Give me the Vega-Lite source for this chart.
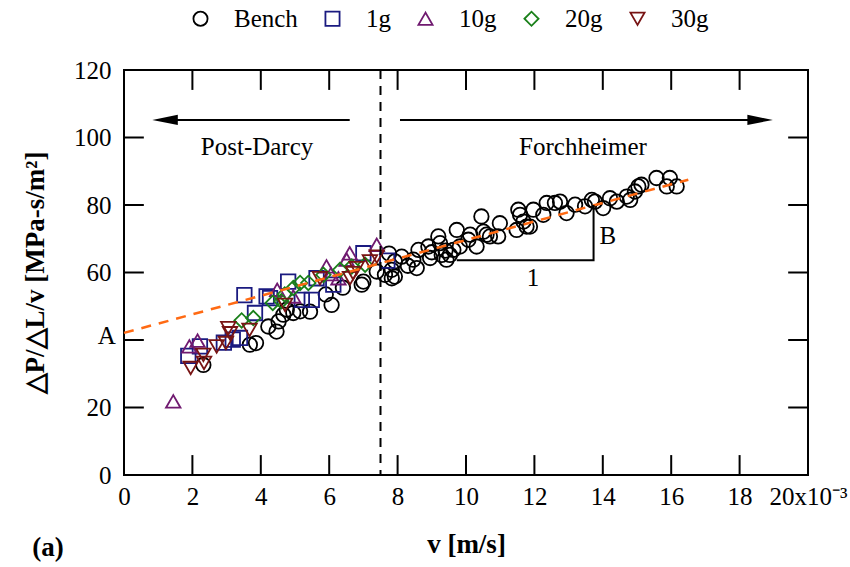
{
 "$schema": "https://vega.github.io/schema/vega-lite/v6.json",
 "width": 684, "height": 405,
 "autosize": {"type": "none"},
 "padding": {"left": 124, "top": 70, "right": 42, "bottom": 92},
 "background": "white",
 "config": {
  "view": {"stroke": "black", "strokeWidth": 2},
  "font": "'Liberation Serif', 'Times New Roman', Times, serif",
  "axis": {"domain": false, "grid": false, "ticks": false, "tickSize": 0,
   "labelFont": "'Liberation Serif', 'Times New Roman', Times, serif", "labelFontSize": 25, "labelColor": "black",
   "titleFont": "'Liberation Serif', 'Times New Roman', Times, serif", "titleFontSize": 27, "titleFontWeight": "bold", "titleColor": "black"},
  "legend": {"orient": "none", "direction": "horizontal", "legendX": 64, "legendY": -64, "padding": 0,
   "labelFont": "'Liberation Serif', 'Times New Roman', Times, serif", "labelFontSize": 25, "labelColor": "black", "labelOffset": 21,
   "columnPadding": 22, "symbolSize": 200, "symbolStrokeWidth": 1.8, "symbolFillColor": "transparent", "symbolOpacity": 1}
 },
 "datasets": {
  "pts": [
   {"series":"Bench","v":0.00232,"y":32.6},{"series":"Bench","v":0.00368,"y":38.6},{"series":"Bench","v":0.00386,"y":39.1},
   {"series":"Bench","v":0.00422,"y":44.0},{"series":"Bench","v":0.00446,"y":42.5},{"series":"Bench","v":0.00452,"y":45.5},
   {"series":"Bench","v":0.00466,"y":47.5},{"series":"Bench","v":0.00476,"y":49.0},{"series":"Bench","v":0.00495,"y":48.0},
   {"series":"Bench","v":0.00515,"y":48.5},{"series":"Bench","v":0.00544,"y":48.4},{"series":"Bench","v":0.0059,"y":53.5},
   {"series":"Bench","v":0.00607,"y":50.4},{"series":"Bench","v":0.0064,"y":55.5},{"series":"Bench","v":0.00695,"y":56.4},
   {"series":"Bench","v":0.0070,"y":57.3},{"series":"Bench","v":0.00739,"y":60.3},{"series":"Bench","v":0.00763,"y":59.3},
   {"series":"Bench","v":0.00783,"y":58.3},{"series":"Bench","v":0.00792,"y":58.8},{"series":"Bench","v":0.00775,"y":65.6},
   {"series":"Bench","v":0.00783,"y":60.8},{"series":"Bench","v":0.00792,"y":63.3},{"series":"Bench","v":0.00812,"y":64.7},
   {"series":"Bench","v":0.0083,"y":62.0},{"series":"Bench","v":0.00846,"y":63.8},{"series":"Bench","v":0.00856,"y":61.3},
   {"series":"Bench","v":0.00861,"y":66.7},{"series":"Bench","v":0.0089,"y":67.7},{"series":"Bench","v":0.00895,"y":64.3},
   {"series":"Bench","v":0.0090,"y":66.0},{"series":"Bench","v":0.00919,"y":70.7},{"series":"Bench","v":0.00924,"y":68.7},
   {"series":"Bench","v":0.00929,"y":65.2},{"series":"Bench","v":0.0094,"y":66.5},{"series":"Bench","v":0.00943,"y":63.8},
   {"series":"Bench","v":0.00953,"y":65.2},{"series":"Bench","v":0.00963,"y":66.7},{"series":"Bench","v":0.00973,"y":72.6},
   {"series":"Bench","v":0.00982,"y":67.7},{"series":"Bench","v":0.01007,"y":69.7},{"series":"Bench","v":0.01012,"y":71.2},
   {"series":"Bench","v":0.01031,"y":67.7},{"series":"Bench","v":0.01045,"y":76.6},{"series":"Bench","v":0.01051,"y":72.1},
   {"series":"Bench","v":0.0106,"y":71.2},{"series":"Bench","v":0.0107,"y":70.7},{"series":"Bench","v":0.01094,"y":70.7},
   {"series":"Bench","v":0.01099,"y":74.6},{"series":"Bench","v":0.01148,"y":72.6},{"series":"Bench","v":0.01153,"y":78.6},
   {"series":"Bench","v":0.01158,"y":77.1},{"series":"Bench","v":0.01168,"y":75.1},{"series":"Bench","v":0.01177,"y":73.6},
   {"series":"Bench","v":0.01187,"y":73.6},{"series":"Bench","v":0.01197,"y":78.6},{"series":"Bench","v":0.01226,"y":77.1},
   {"series":"Bench","v":0.01236,"y":80.6},{"series":"Bench","v":0.0126,"y":80.6},{"series":"Bench","v":0.01275,"y":81.0},
   {"series":"Bench","v":0.01294,"y":77.6},{"series":"Bench","v":0.01319,"y":80.1},{"series":"Bench","v":0.01348,"y":79.6},
   {"series":"Bench","v":0.01368,"y":81.5},{"series":"Bench","v":0.01377,"y":81.0},{"series":"Bench","v":0.01401,"y":79.1},
   {"series":"Bench","v":0.01421,"y":82.0},{"series":"Bench","v":0.01441,"y":81.0},{"series":"Bench","v":0.0147,"y":82.5},
   {"series":"Bench","v":0.0148,"y":81.5},{"series":"Bench","v":0.01494,"y":84.0},{"series":"Bench","v":0.01504,"y":85.5},
   {"series":"Bench","v":0.01513,"y":86.0},{"series":"Bench","v":0.01557,"y":88.0},{"series":"Bench","v":0.01587,"y":85.5},
   {"series":"Bench","v":0.01596,"y":88.0},{"series":"Bench","v":0.01616,"y":85.5},
   {"series":"1g","v":0.00188,"y":35.3},{"series":"1g","v":0.00222,"y":38.1},{"series":"1g","v":0.00292,"y":39.2},
   {"series":"1g","v":0.00318,"y":40.1},{"series":"1g","v":0.00339,"y":40.6},{"series":"1g","v":0.00352,"y":53.3},
   {"series":"1g","v":0.00383,"y":48.0},{"series":"1g","v":0.00417,"y":52.9},{"series":"1g","v":0.00427,"y":52.4},
   {"series":"1g","v":0.0048,"y":57.3},{"series":"1g","v":0.0052,"y":51.9},{"series":"1g","v":0.00549,"y":51.9},
   {"series":"1g","v":0.00563,"y":58.3},{"series":"1g","v":0.00612,"y":56.4},{"series":"1g","v":0.0070,"y":65.7},
   {"series":"1g","v":0.0077,"y":63.5},
   {"series":"10g","v":0.00144,"y":21.8},{"series":"10g","v":0.00191,"y":38.1},{"series":"10g","v":0.00215,"y":39.8},
   {"series":"10g","v":0.00448,"y":54.9},{"series":"10g","v":0.00495,"y":52.9},{"series":"10g","v":0.00592,"y":61.8},
   {"series":"10g","v":0.00605,"y":59.5},{"series":"10g","v":0.00627,"y":58.3},{"series":"10g","v":0.00651,"y":63.8},
   {"series":"10g","v":0.0066,"y":65.7},{"series":"10g","v":0.00739,"y":68.2},
   {"series":"20g","v":0.00344,"y":45.8},{"series":"20g","v":0.00378,"y":46.5},{"series":"20g","v":0.00435,"y":51.0},
   {"series":"20g","v":0.0046,"y":51.5},{"series":"20g","v":0.0047,"y":53.5},{"series":"20g","v":0.00495,"y":55.4},
   {"series":"20g","v":0.00515,"y":56.9},{"series":"20g","v":0.00539,"y":56.9},{"series":"20g","v":0.00583,"y":59.3},
   {"series":"20g","v":0.00632,"y":60.8},{"series":"20g","v":0.00666,"y":61.8},{"series":"20g","v":0.00705,"y":62.3},
   {"series":"30g","v":0.00195,"y":31.7},{"series":"30g","v":0.00234,"y":33.2},{"series":"30g","v":0.00232,"y":35.6},
   {"series":"30g","v":0.00271,"y":38.1},{"series":"30g","v":0.00298,"y":39.1},{"series":"30g","v":0.0031,"y":42.0},
   {"series":"30g","v":0.00305,"y":43.5},{"series":"30g","v":0.00367,"y":43.0},{"series":"30g","v":0.00471,"y":50.4},
   {"series":"30g","v":0.00573,"y":58.3},{"series":"30g","v":0.00661,"y":58.3},{"series":"30g","v":0.0067,"y":59.8},
   {"series":"30g","v":0.0068,"y":61.3},{"series":"30g","v":0.00719,"y":63.3},{"series":"30g","v":0.00739,"y":64.7}
  ],
  "fit": [{"v": 0.0, "y": 42.1}, {"v": 0.0165, "y": 87.5}],
  "slope": [{"seq": 1, "v": 0.00973, "y": 63.6}, {"seq": 2, "v": 0.01373, "y": 63.6}, {"seq": 3, "v": 0.01373, "y": 80.0}],
  "shafts": [{"v": 0.0012, "v2": 0.0066, "y": 105.2}, {"v": 0.00807, "v2": 0.0186, "y": 105.2}],
  "xticks": [{"v": 0.002}, {"v": 0.004}, {"v": 0.006}, {"v": 0.008}, {"v": 0.01}, {"v": 0.012}, {"v": 0.014}, {"v": 0.016}, {"v": 0.018}],
  "yticks": [{"y": 20}, {"y": 40}, {"y": 60}, {"y": 80}, {"y": 100}],
  "notes": [
   {"v": 0.00389, "y": 97.2, "text": "Post-Darcy"},
   {"v": 0.01342, "y": 97.2, "text": "Forchheimer"},
   {"v": 0.01196, "y": 58.4, "text": "1"},
   {"v": 0.01415, "y": 70.9, "text": "B"},
   {"v": -0.0005, "y": 41.3, "text": "A"}
  ]
 },
 "layer": [
  {
   "data": {"name": "pts"},
   "mark": {"type": "point", "filled": false, "strokeWidth": 1.8, "size": 210, "opacity": 1},
   "encoding": {
    "x": {"field": "v", "type": "quantitative", "scale": {"domain": [0, 0.02], "nice": false},
     "axis": {"orient": "bottom", "values": [0,0.002,0.004,0.006,0.008,0.01,0.012,0.014,0.016,0.018,0.02],
      "labelExpr": "datum.value > 0.0199 ? '20x10⁻³' : format(datum.value*1000, 'd')",
      "labelPadding": 9, "labelFlush": false, "title": "v [m/s]", "titlePadding": 22}},
    "y": {"field": "y", "type": "quantitative", "scale": {"domain": [0, 120], "nice": false},
     "axis": {"orient": "left", "values": [0,20,40,60,80,100,120],
      "labelExpr": "datum.value == 40 ? '' : datum.label", "labelPadding": 13,
      "title": "△P/△L/v [MPa-s/m²]", "titlePadding": 24}},
    "color": {"field": "series", "type": "nominal",
     "scale": {"domain": ["Bench", "1g", "10g", "20g", "30g"], "range": ["#000000", "#1a1a80", "#701a70", "#1a801a", "#781414"]},
     "legend": {"title": null}},
    "shape": {"field": "series", "type": "nominal",
     "scale": {"domain": ["Bench", "1g", "10g", "20g", "30g"], "range": ["circle", "square", "triangle-up", "diamond", "triangle-down"]},
     "legend": {"title": null}}
   }
  },
  {
   "data": {"name": "fit"},
   "mark": {"type": "line", "color": "#ff6a13", "strokeWidth": 2.5, "strokeDash": [10, 8]},
   "encoding": {
    "x": {"field": "v", "type": "quantitative", "scale": {"domain": [0, 0.02], "nice": false}},
    "y": {"field": "y", "type": "quantitative", "scale": {"domain": [0, 120], "nice": false}}
   }
  },
  {
   "data": {"name": "xticks"},
   "mark": {"type": "rule", "color": "black", "strokeWidth": 2},
   "encoding": {
    "x": {"field": "v", "type": "quantitative", "scale": {"domain": [0, 0.02], "nice": false}},
    "y": {"datum": 0, "type": "quantitative", "scale": {"domain": [0, 120], "nice": false}},
    "y2": {"datum": 5.9}
   }
  },
  {
   "data": {"name": "xticks"},
   "mark": {"type": "rule", "color": "black", "strokeWidth": 2},
   "encoding": {
    "x": {"field": "v", "type": "quantitative", "scale": {"domain": [0, 0.02], "nice": false}},
    "y": {"datum": 120, "type": "quantitative", "scale": {"domain": [0, 120], "nice": false}},
    "y2": {"datum": 114.1}
   }
  },
  {
   "data": {"name": "yticks"},
   "mark": {"type": "rule", "color": "black", "strokeWidth": 2},
   "encoding": {
    "y": {"field": "y", "type": "quantitative", "scale": {"domain": [0, 120], "nice": false}},
    "x": {"datum": 0, "type": "quantitative", "scale": {"domain": [0, 0.02], "nice": false}},
    "x2": {"datum": 0.00058}
   }
  },
  {
   "data": {"name": "yticks"},
   "mark": {"type": "rule", "color": "black", "strokeWidth": 2},
   "encoding": {
    "y": {"field": "y", "type": "quantitative", "scale": {"domain": [0, 120], "nice": false}},
    "x": {"datum": 0.02, "type": "quantitative", "scale": {"domain": [0, 0.02], "nice": false}},
    "x2": {"datum": 0.01942}
   }
  },
  {
   "data": {"values": [{"v": 0.0075}]},
   "mark": {"type": "rule", "color": "black", "strokeWidth": 2, "strokeDash": [9, 7]},
   "encoding": {"x": {"field": "v", "type": "quantitative", "scale": {"domain": [0, 0.02], "nice": false}}}
  },
  {
   "data": {"name": "slope"},
   "mark": {"type": "line", "color": "black", "strokeWidth": 2},
   "encoding": {
    "x": {"field": "v", "type": "quantitative", "scale": {"domain": [0, 0.02], "nice": false}},
    "y": {"field": "y", "type": "quantitative", "scale": {"domain": [0, 120], "nice": false}},
    "order": {"field": "seq", "type": "quantitative"}
   }
  },
  {
   "data": {"name": "shafts"},
   "mark": {"type": "rule", "color": "black", "strokeWidth": 2},
   "encoding": {
    "x": {"field": "v", "type": "quantitative", "scale": {"domain": [0, 0.02], "nice": false}},
    "x2": {"field": "v2"},
    "y": {"field": "y", "type": "quantitative", "scale": {"domain": [0, 120], "nice": false}}
   }
  },
  {
   "data": {"values": [{"v": 0.0012, "y": 105.2}]},
   "mark": {"type": "point", "shape": "M-1,0L1,-0.4L1,0.4Z", "filled": true, "color": "black", "size": 650, "opacity": 1},
   "encoding": {
    "x": {"field": "v", "type": "quantitative", "scale": {"domain": [0, 0.02], "nice": false}},
    "y": {"field": "y", "type": "quantitative", "scale": {"domain": [0, 120], "nice": false}}
   }
  },
  {
   "data": {"values": [{"v": 0.0186, "y": 105.2}]},
   "mark": {"type": "point", "shape": "M1,0L-1,-0.4L-1,0.4Z", "filled": true, "color": "black", "size": 650, "opacity": 1},
   "encoding": {
    "x": {"field": "v", "type": "quantitative", "scale": {"domain": [0, 0.02], "nice": false}},
    "y": {"field": "y", "type": "quantitative", "scale": {"domain": [0, 120], "nice": false}}
   }
  },
  {
   "data": {"name": "notes"},
   "mark": {"type": "text", "font": "'Liberation Serif', 'Times New Roman', Times, serif", "fontSize": 25, "color": "black", "align": "center", "baseline": "middle"},
   "encoding": {
    "x": {"field": "v", "type": "quantitative", "scale": {"domain": [0, 0.02], "nice": false}},
    "y": {"field": "y", "type": "quantitative", "scale": {"domain": [0, 120], "nice": false}},
    "text": {"field": "text"}
   }
  },
  {
   "data": {"values": [{"v": -0.00222, "y": -21.6, "text": "(a)"}]},
   "mark": {"type": "text", "font": "'Liberation Serif', 'Times New Roman', Times, serif", "fontSize": 27, "fontWeight": "bold", "color": "black", "align": "center", "baseline": "middle"},
   "encoding": {
    "x": {"field": "v", "type": "quantitative", "scale": {"domain": [0, 0.02], "nice": false}},
    "y": {"field": "y", "type": "quantitative", "scale": {"domain": [0, 120], "nice": false}},
    "text": {"field": "text"}
   }
  }
 ]
}
